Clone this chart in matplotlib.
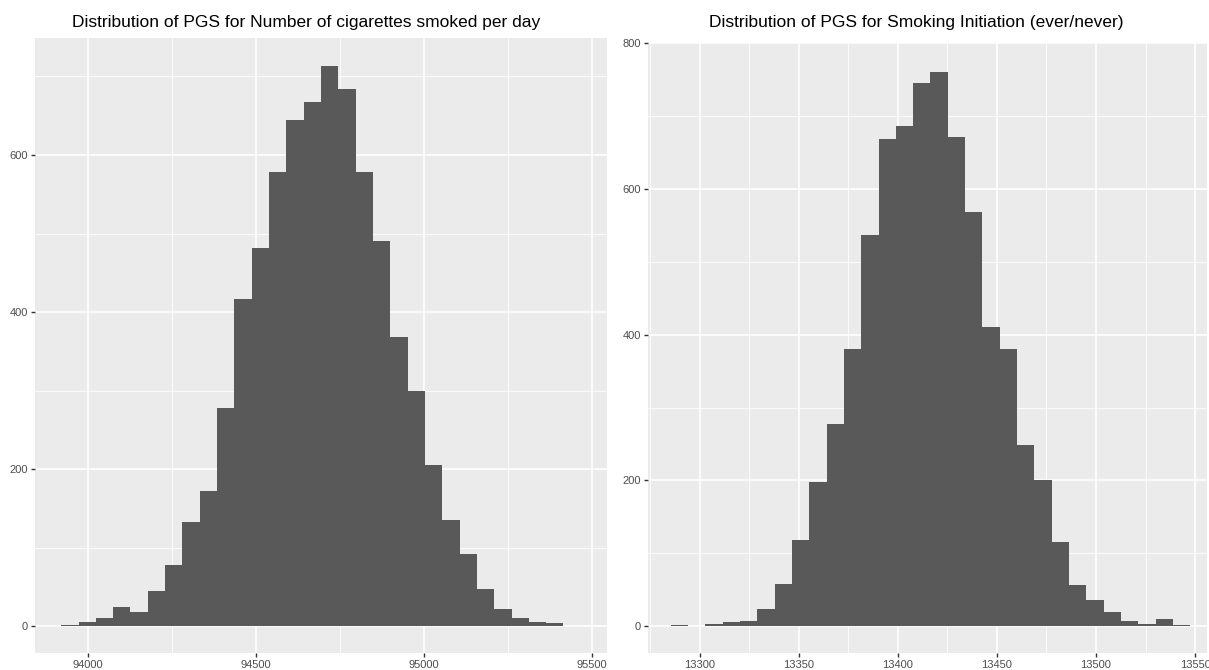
import numpy as np
import matplotlib
matplotlib.use("Agg")
import matplotlib.pyplot as plt
from matplotlib.ticker import MultipleLocator

plt.rcParams['font.family'] = ['Liberation Sans', 'DejaVu Sans']

# Cigarettes per day PGS: 30 bins
cig_lo, cig_hi = 93920, 95467
cig_counts = [2, 5, 10, 25, 18, 45, 78, 133, 172, 278,
              417, 482, 578, 645, 668, 713, 684, 578, 491, 368,
              300, 205, 135, 92, 48, 22, 10, 5, 4, 1]

# Smoking initiation PGS: 30 bins
ini_lo, ini_hi = 13285.5, 13547.5
ini_counts = [1, 0, 3, 5, 7, 24, 58, 118, 198, 277,
              380, 537, 669, 686, 746, 761, 671, 569, 410, 381,
              249, 200, 116, 57, 36, 19, 7, 3, 9, 1]

titles = ["Distribution of PGS for Number of cigarettes smoked per day",
          "Distribution of PGS for Smoking Initiation (ever/never)"]

W, H = 1209, 670
fig = plt.figure(figsize=(W / 100, H / 100), dpi=100)


def px_axes(left, top, right, bottom):
    return fig.add_axes([left / W, 1 - bottom / H, (right - left) / W, (bottom - top) / H])


def gg_hist(ax, lo, hi, counts, xmaj, ymaj, xlim, ylim):
    edges = np.linspace(lo, hi, len(counts) + 1)
    ax.set_facecolor('#EBEBEB')
    ax.bar(edges[:-1], counts, width=np.diff(edges), align='edge',
           color='#595959', linewidth=0, zorder=3)
    ax.set_xlim(*xlim)
    ax.set_ylim(*ylim)
    ax.xaxis.set_major_locator(MultipleLocator(xmaj))
    ax.xaxis.set_minor_locator(MultipleLocator(xmaj / 2))
    ax.yaxis.set_major_locator(MultipleLocator(ymaj))
    ax.yaxis.set_minor_locator(MultipleLocator(ymaj / 2))
    ax.grid(which='major', color='white', lw=1.2, zorder=1)
    ax.grid(which='minor', color='white', lw=0.6, zorder=1)
    for s in ax.spines.values():
        s.set_visible(False)
    ax.tick_params(which='major', length=3, width=1, color='#333333',
                   labelsize=8, labelcolor='#4D4D4D', pad=2)
    ax.tick_params(which='minor', length=0)
    ax.set_axisbelow(True)


ax1 = px_axes(35, 38, 607, 653)
gg_hist(ax1, cig_lo, cig_hi, cig_counts, 500, 200, (93842, 95545), (-34, 749))

ax2 = px_axes(648, 43, 1207, 653)
gg_hist(ax2, ini_lo, ini_hi, ini_counts, 50, 200, (13274, 13556), (-37, 800.5))

fig.text(306 / W, 1 - 23 / H, titles[0], ha='center', va='center', fontsize=12.5, color='black')
fig.text(916 / W, 1 - 23 / H, titles[1], ha='center', va='center', fontsize=12.5, color='black')

fig.savefig("out.png", dpi=100, facecolor='white')
